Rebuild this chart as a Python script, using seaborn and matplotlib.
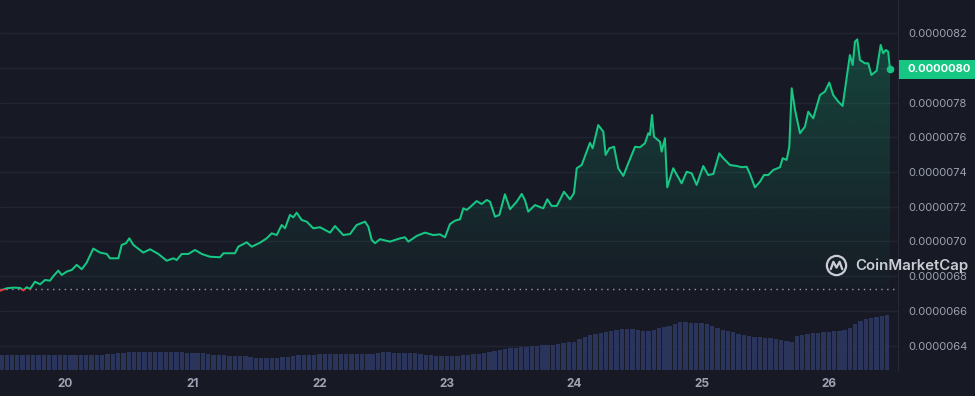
import numpy as np
import pandas as pd
import matplotlib
matplotlib.use("Agg")
import matplotlib.pyplot as plt
import matplotlib.transforms as mtransforms
from matplotlib.patches import Rectangle, Circle
from matplotlib.colors import to_rgb
from matplotlib.ticker import FixedLocator, FuncFormatter
import seaborn as sns

# ---------------- data ----------------
# time in days of the month, price in units of 1e-6
day = [19.489, 19.542, 19.594, 19.647, 19.672, 19.699, 19.725, 19.764, 19.804, 19.843,
       19.882, 19.908, 19.947, 19.974, 20.013, 20.053, 20.092, 20.131, 20.170, 20.222,
       20.275, 20.328, 20.353, 20.419, 20.445, 20.479, 20.505, 20.537, 20.615, 20.668,
       20.733, 20.799, 20.851, 20.877, 20.917, 20.969, 21.021, 21.074, 21.139, 21.218,
       21.244, 21.335, 21.361, 21.427, 21.467, 21.532, 21.584, 21.624, 21.663, 21.702,
       21.728, 21.767, 21.793, 21.820, 21.859, 21.899, 21.950, 22.003, 22.082, 22.121,
       22.186, 22.239, 22.291, 22.357, 22.383, 22.409, 22.435, 22.474, 22.553, 22.632,
       22.671, 22.697, 22.763, 22.828, 22.893, 22.946, 22.985, 23.024, 23.064, 23.103,
       23.129, 23.156, 23.181, 23.234, 23.273, 23.313, 23.339, 23.378, 23.412, 23.456,
       23.496, 23.548, 23.588, 23.613, 23.639, 23.692, 23.757, 23.789, 23.823, 23.863,
       23.888, 23.920, 23.967, 23.998, 24.020, 24.059, 24.098, 24.124, 24.145, 24.189,
       24.229, 24.247, 24.276, 24.313, 24.346, 24.386, 24.425, 24.478, 24.517, 24.556,
       24.582, 24.595, 24.611, 24.627, 24.674, 24.687, 24.713, 24.731, 24.778, 24.844,
       24.884, 24.923, 24.962, 25.014, 25.053, 25.093, 25.140, 25.171, 25.224, 25.277,
       25.316, 25.355, 25.381, 25.420, 25.460, 25.491, 25.525, 25.564, 25.617, 25.638,
       25.669, 25.690, 25.709, 25.735, 25.774, 25.813, 25.839, 25.878, 25.931, 25.970,
       26.004, 26.035, 26.075, 26.109, 26.145, 26.166, 26.188, 26.206, 26.224, 26.245,
       26.284, 26.310, 26.335, 26.376, 26.408, 26.428, 26.449, 26.467, 26.481]

price = [6.716, 6.730, 6.734, 6.732, 6.718, 6.736, 6.726, 6.768, 6.753, 6.778,
         6.774, 6.800, 6.832, 6.807, 6.826, 6.836, 6.865, 6.840, 6.878, 6.959,
         6.936, 6.928, 6.903, 6.903, 6.980, 6.990, 7.018, 6.980, 6.936, 6.955,
         6.928, 6.889, 6.903, 6.893, 6.928, 6.928, 6.951, 6.928, 6.912, 6.909,
         6.932, 6.932, 6.970, 6.995, 6.970, 6.993, 7.018, 7.047, 7.037, 7.095,
         7.076, 7.153, 7.139, 7.166, 7.124, 7.114, 7.076, 7.082, 7.051, 7.089,
         7.037, 7.043, 7.095, 7.114, 7.085, 7.009, 6.990, 7.013, 6.999, 7.018,
         7.024, 6.999, 7.032, 7.051, 7.037, 7.041, 7.024, 7.100, 7.120, 7.128,
         7.191, 7.182, 7.197, 7.233, 7.216, 7.239, 7.229, 7.143, 7.153, 7.272,
         7.186, 7.229, 7.274, 7.239, 7.172, 7.210, 7.191, 7.243, 7.205, 7.205,
         7.239, 7.287, 7.243, 7.278, 7.422, 7.441, 7.518, 7.569, 7.537, 7.671,
         7.633, 7.499, 7.537, 7.546, 7.422, 7.378, 7.451, 7.546, 7.543, 7.566,
         7.624, 7.614, 7.729, 7.604, 7.575, 7.518, 7.595, 7.312, 7.422, 7.335,
         7.402, 7.393, 7.326, 7.435, 7.383, 7.389, 7.508, 7.480, 7.441, 7.435,
         7.428, 7.431, 7.389, 7.312, 7.345, 7.383, 7.383, 7.412, 7.428, 7.480,
         7.470, 7.546, 7.883, 7.758, 7.624, 7.662, 7.748, 7.710, 7.844, 7.864,
         7.916, 7.844, 7.806, 7.781, 7.969, 8.075, 8.017, 8.152, 8.165, 8.046,
         8.027, 8.027, 7.960, 7.984, 8.133, 8.085, 8.104, 8.094, 7.992]

open_price = 6.7245          # dotted reference line (period open)

# hourly volume bars (relative height), first bar at vol_start_day
vol_start_day = 19.5
volume = ([15] * 20 + [16, 16, 17, 17] + [18] * 10 + [18, 17.5, 17.5, 17]
          + [17, 16, 15.5, 15] + [15, 14.5, 14.5, 14, 14, 13.5] + [12] * 5
          + [13, 13.5, 14, 15] + [15, 15.5, 15.5, 16, 16, 16, 16]
          + [16, 16, 16, 16, 16, 16, 16.5] + [17.5, 18, 18, 17.5, 17]
          + [17, 17, 17, 16, 15.5] + [15, 14.5, 14, 14, 14]
          + [14.5, 15, 15.5, 16, 16.5, 17, 18] + [19, 20, 21, 22, 22.5, 23]
          + [23.5, 24, 24.5, 25, 25, 25.5, 26] + [27, 28, 28]
          + [31, 33, 35, 36, 37] + [38, 39, 40, 41, 41] + [41, 40, 39, 39, 40, 42]
          + [43, 44, 46, 48] + [48, 47, 47, 47, 46] + [44, 42, 40, 39, 38]
          + [36, 35, 34, 33, 33] + [32, 32, 31, 30, 29, 28] + [34, 35, 36, 37, 37.5]
          + [38, 38.5, 39, 39] + [40, 42, 46, 49, 51] + [52, 53, 54, 55])

x_ticks = [20, 21, 22, 23, 24, 25, 26]
x_labels = ["20", "21", "22", "23", "24", "25", "26"]
y_ticks = [6.4, 6.6, 6.8, 7.0, 7.2, 7.4, 7.6, 7.8, 8.0, 8.2]

# ---------------- style ----------------
BG = "#171924"
GREEN = "#16c784"
RED = "#ea3943"
GRID = "#222531"
TXT = "#9ea3b3"
BAR = "#2b345a"

sns.set_theme(style="dark", rc={"axes.facecolor": BG, "figure.facecolor": BG})
plt.rcParams["font.family"] = ["Inter", "DejaVu Sans"]

fig = plt.figure(figsize=(9.75, 3.96), dpi=100, facecolor=BG)
ax = fig.add_axes([0.0, 26 / 396, 898 / 975, 370 / 396])
ax.set_facecolor(BG)

XLIM = (19.489, 26.544)
YLIM = (6.259, 8.392)

# gradient area under the line
df = pd.DataFrame({"day": day, "price": price})
poly = ax.fill_between(df["day"], df["price"], open_price, color="none", lw=0)
clip = poly.get_paths()[0]
poly.remove()
n = 256
rgba = np.zeros((n, 1, 4))
rgba[..., :3] = to_rgb(GREEN)
rgba[..., 3] = np.linspace(0.02, 0.29, n).reshape(-1, 1)
im = ax.imshow(rgba, extent=[day[0], day[-1], open_price, YLIM[1]], origin="lower",
               aspect="auto", zorder=1, interpolation="bilinear")
im.set_clip_path(clip, transform=ax.transData)

# price line: green above the open, red below
sns.lineplot(data=df, x="day", y="price", ax=ax, color=GREEN, linewidth=1.45, zorder=3)
ln_up = ax.get_lines()[-1]
sns.lineplot(data=df, x="day", y="price", ax=ax, color=RED, linewidth=1.45, zorder=3)
ln_dn = ax.get_lines()[-1]
ln_up.set_clip_path(Rectangle((XLIM[0] - 1, open_price), 20, 10, transform=ax.transData))
ln_dn.set_clip_path(Rectangle((XLIM[0] - 1, open_price - 10), 20, 10, transform=ax.transData))

ax.axhline(open_price, color="#9aa0b0", lw=1.0, ls=(0, (1, 3.2)), zorder=2)
ax.scatter([day[-1]], [price[-1]], s=30, color=GREEN, zorder=5, linewidths=0)

last_label = f"{price[-1] * 1e-6:.7f}"


def fmt(v, p):
    s = f"{v * 1e-6:.7f}"
    return "" if s == last_label else s   # hidden behind the last-price tag


ax.set_xlim(*XLIM)
ax.set_ylim(*YLIM)
ax.yaxis.set_major_locator(FixedLocator(y_ticks))
ax.yaxis.set_major_formatter(FuncFormatter(fmt))
ax.set_xticks(x_ticks)
ax.set_xticklabels(x_labels)
ax.grid(axis="y", color=GRID, lw=1.0)
ax.grid(axis="x", visible=False)
ax.set_xlabel("")
ax.set_ylabel("")
for s in ["top", "left", "bottom"]:
    ax.spines[s].set_visible(False)
ax.spines["right"].set_color("#272a36")
ax.spines["right"].set_linewidth(0.8)

# volume bars on a twin axis (drawn above the grid)
ax_vol = ax.twinx()
vol_days = [vol_start_day + i / 24 for i in range(len(volume))]
ax_vol.bar(vol_days, volume, width=0.82 / 24, color=BAR, linewidth=0, zorder=1)
ax_vol.set_ylim(0, 370)
ax_vol.set_yticks([])
for s in ax_vol.spines.values():
    s.set_visible(False)
ax_vol.patch.set_visible(False)

ax.yaxis.tick_right()
ax.tick_params(axis="y", length=0, pad=7.5, labelsize=8, labelcolor=TXT)
ax.tick_params(axis="x", length=2, width=0.8, color="#3a3e4d", pad=4, labelsize=8.5,
               labelcolor=TXT)
for t in ax.get_xticklabels():
    t.set_fontweight("bold")

# last-price tag
blend = mtransforms.blended_transform_factory(fig.transFigure, ax.transData)
tag_h = 0.108
fig.patches.append(Rectangle((899 / 975, price[-1] - tag_h / 2), 76 / 975, tag_h,
                             transform=blend, facecolor=GREEN, edgecolor="none", zorder=6))
fig.text(908 / 975, price[-1], last_label, transform=blend, color="white",
         fontsize=8, fontweight="bold", ha="left", va="center", zorder=7)

# watermark
fig.text(855 / 975, 1 - 266 / 396, "CoinMarketCap", color="#dfe1e8", alpha=0.9,
         fontsize=10.8, fontweight="semibold", ha="left", va="center", zorder=8)
lax = fig.add_axes([825 / 975, 1 - 277 / 396, 23 / 975, 23 / 396])
lax.set_xlim(-1.1, 1.1)
lax.set_ylim(-1.1, 1.1)
lax.set_aspect("equal")
lax.axis("off")
lax.add_patch(Circle((0, 0), 0.92, fill=False, ec="#dfe1e8", lw=1.6, alpha=0.9))
lax.plot([-0.55, -0.3, 0.0, 0.3, 0.55], [-0.35, 0.35, -0.2, 0.35, -0.35],
         color="#dfe1e8", lw=1.6, alpha=0.9, solid_capstyle="round")

fig.savefig("out.png", dpi=100, facecolor=BG)
